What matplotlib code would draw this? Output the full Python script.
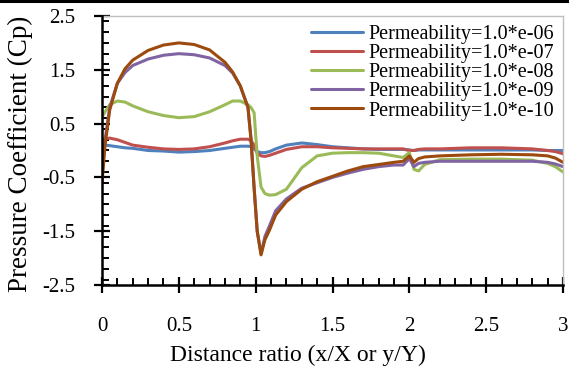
import numpy as np
import matplotlib
matplotlib.use("Agg")
import matplotlib.pyplot as plt
from matplotlib.lines import Line2D
from matplotlib.ticker import MultipleLocator

plt.rcParams['font.family'] = ['Liberation Serif', 'DejaVu Serif']

# Distance ratio samples (shared by all curves)
x = [0, 0.02, 0.05, 0.1, 0.15, 0.2, 0.3, 0.4, 0.5, 0.6, 0.7, 0.8, 0.85, 0.9,
     0.95, 0.97, 0.99, 1.01, 1.035, 1.06, 1.09, 1.13, 1.2, 1.3, 1.4, 1.5, 1.6,
     1.7, 1.8, 1.9, 1.96, 2.0, 2.03, 2.06, 2.1, 2.2, 2.4, 2.6, 2.8, 2.9, 2.95,
     3.0]

cp_e06 = [0.1, 0.1, 0.09, 0.07, 0.05, 0.04, 0.0, -0.01, -0.03, -0.02, 0.0,
          0.04, 0.06, 0.08, 0.08, 0.07, 0.03, -0.02, -0.04, -0.04, -0.02,
          0.03, 0.1, 0.14, 0.11, 0.07, 0.05, 0.03, 0.02, 0.02, 0.02, 0.01,
          0.0, 0.01, 0.01, 0.01, 0.01, 0.01, 0.01, 0.0, 0.0, 0.0]
cp_e07 = [0.2, 0.22, 0.23, 0.2, 0.15, 0.1, 0.06, 0.03, 0.02, 0.03, 0.07,
          0.14, 0.18, 0.21, 0.21, 0.18, 0.1, -0.05, -0.1, -0.11, -0.09,
          -0.05, 0.02, 0.07, 0.07, 0.05, 0.04, 0.03, 0.03, 0.03, 0.03, 0.0,
          0.0, 0.02, 0.03, 0.03, 0.05, 0.05, 0.03, 0.0, -0.02, -0.06]
cp_e08 = [0.62, 0.72, 0.85, 0.92, 0.9, 0.83, 0.72, 0.65, 0.61, 0.63, 0.72,
          0.85, 0.92, 0.92, 0.85, 0.8, 0.7, -0.1, -0.68, -0.8, -0.83, -0.82,
          -0.72, -0.32, -0.1, -0.05, -0.04, -0.04, -0.05, -0.1, -0.13, -0.04,
          -0.35, -0.38, -0.26, -0.17, -0.16, -0.16, -0.18, -0.24, -0.3, -0.4]
cp_e09 = [-0.5, 0.2, 0.8, 1.25, 1.45, 1.58, 1.7, 1.77, 1.8, 1.78, 1.72,
          1.58, 1.44, 1.2, 0.8, 0.2, -0.7, -1.5, -1.92, -1.6, -1.4, -1.12,
          -0.9, -0.7, -0.6, -0.5, -0.42, -0.35, -0.3, -0.27, -0.27, -0.15,
          -0.3, -0.24, -0.22, -0.2, -0.2, -0.2, -0.2, -0.22, -0.25, -0.3]
cp_e10 = [-0.6, 0.1, 0.75, 1.25, 1.52, 1.68, 1.86, 1.96, 2.0, 1.97, 1.87,
          1.64, 1.46, 1.2, 0.8, 0.2, -0.7, -1.5, -1.94, -1.66, -1.48, -1.2,
          -0.95, -0.72, -0.58, -0.48, -0.38, -0.3, -0.26, -0.22, -0.2, -0.1,
          -0.22, -0.15, -0.12, -0.1, -0.08, -0.07, -0.08, -0.1, -0.14, -0.22]

labels = ["Permeability=1.0*e-06", "Permeability=1.0*e-07",
          "Permeability=1.0*e-08", "Permeability=1.0*e-09",
          "Permeability=1.0*e-10"]
colors = ["#4F81BD", "#C0504D", "#9BBB59", "#8064A2", "#9C4A0E"]
series = [cp_e06, cp_e07, cp_e08, cp_e09, cp_e10]

yticks = [-2.5, -1.5, -0.5, 0.5, 1.5, 2.5]
xticks = [0, 0.5, 1, 1.5, 2, 2.5, 3]

fig = plt.figure(figsize=(5.69, 3.73), dpi=100)
ax = fig.add_axes([102 / 569, 1 - 285 / 373, 461 / 569, 269 / 373])

for ys, c, lab in zip(series, colors, labels):
    ax.plot(x, ys, color=c, lw=2.2, label=lab, solid_capstyle='round')

ax.set_xlim(0, 3)
ax.set_ylim(-2.5, 2.5)
ax.set_yticks(yticks)
ax.set_yticklabels([f"{v:g}" for v in yticks])
ax.set_xticks(xticks)
ax.set_xticklabels([f"{v:g}" for v in xticks])
ax.xaxis.set_minor_locator(MultipleLocator(0.1))
ax.yaxis.set_minor_locator(MultipleLocator(0.2))

ax.tick_params(which='major', direction='inout', length=12, width=1.6,
               labelsize=15, color='black')
ax.tick_params(axis='y', which='major', pad=13)
ax.tick_params(axis='x', which='major', pad=17)
ax.tick_params(which='minor', direction='in', length=5, width=1.4)

for s in ['left', 'bottom']:
    ax.spines[s].set_color('black')
    ax.spines[s].set_linewidth(1.8)
for s in ['top', 'right']:
    ax.spines[s].set_color('#bfbfbf')
    ax.spines[s].set_linewidth(1.0)
ax.spines['left'].set_zorder(5)

ax.set_xlabel("Distance ratio (x/X or y/Y)", fontsize=17)
ax.xaxis.set_label_coords(0.425, -0.222)
ax.set_ylabel("Pressure Coefficient (Cp)", fontsize=19.5)
ax.yaxis.set_label_coords(-0.15, 0.487)

ax.legend(loc='upper right', bbox_to_anchor=(1.0, 1.0), frameon=False,
          fontsize=14.5, handlelength=2.6, handletextpad=0.25,
          labelspacing=0.0, borderaxespad=0.0, borderpad=0.45)

# page border line at the very top
fig.add_artist(Line2D([0, 1], [0.996, 0.996], transform=fig.transFigure,
                      color='black', lw=2.2))

fig.savefig("out.png", dpi=100)
